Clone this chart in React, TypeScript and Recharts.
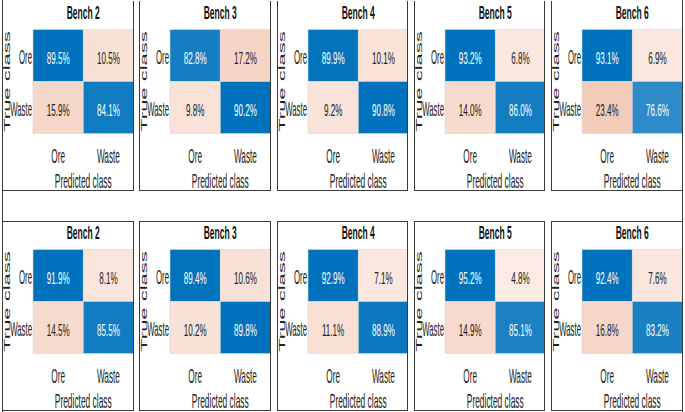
import React from "react";
import { ScatterChart, Scatter, XAxis, YAxis } from "recharts";

const CLASSES = ["Ore", "Waste"];
const BENCHES = ["Bench 2", "Bench 3", "Bench 4", "Bench 5", "Bench 6"];
// cell order: Ore->Ore, Ore->Waste, Waste->Ore, Waste->Waste (row-normalised %)
const TOP_ROW = [
  [89.5, 10.5, 15.9, 84.1],
  [82.8, 17.2, 9.8, 90.2],
  [89.9, 10.1, 9.2, 90.8],
  [93.2, 6.8, 14.0, 86.0],
  [93.1, 6.9, 23.4, 76.6],
];
const BOTTOM_ROW = [
  [91.9, 8.1, 14.5, 85.5],
  [89.4, 10.6, 10.2, 89.8],
  [92.9, 7.1, 11.1, 88.9],
  [95.2, 4.8, 14.9, 85.1],
  [92.4, 7.6, 16.8, 83.2],
];
const X_LABEL = "Predicted class";
const Y_LABEL = "True class";

const FONT = "'Liberation Sans', Arial, sans-serif";
const INK = "#222222";
const FRAME = "#3a3a3a";
const DIAG_RGB = [0, 114, 189];
const OFF_RGB = [217, 83, 25];

const PANEL_W = 131.5;
const PANEL_H = 190;
const PANEL_X0 = 2;
const PANEL_STEP = 137.25;
const ROW_TOPS = [0.5, 220.5];
const TITLE_H = 28.5;
const YAXIS_W = 31;
const XAXIS_H = 57.5;
const CELL_W = (PANEL_W - YAXIS_W) / 2;
const CELL_H = (PANEL_H - TITLE_H - XAXIS_H) / 2;

function mix(rgb: number[], t: number) {
  const c = rgb.map((v) => Math.round(255 - (255 - v) * t));
  return `rgb(${c[0]},${c[1]},${c[2]})`;
}

function toCells(values: number[]) {
  return values.map((v, k) => ({
    truth: CLASSES[Math.floor(k / 2)],
    pred: CLASSES[k % 2],
    value: v,
  }));
}

function HeatCell(props: any) {
  const { cx, cy, payload, maxDiag } = props;
  if (cx == null || cy == null) return null;
  const diag = payload.truth === payload.pred;
  const fill = diag
    ? mix(DIAG_RGB, payload.value / maxDiag)
    : mix(OFF_RGB, Math.min(1, payload.value / 100 + 0.07));
  return (
    <g>
      <rect
        x={cx - CELL_W / 2}
        y={cy - CELL_H / 2}
        width={CELL_W}
        height={CELL_H}
        fill={fill}
        stroke="#d8d8d8"
        strokeWidth={0.6}
      />
      <text
        transform={`translate(${cx},${cy + 8}) scale(0.49,1)`}
        textAnchor="middle"
        fontSize={16.5}
        fontFamily={FONT}
        fill={diag ? "#ffffff" : INK}
      >
        {payload.value.toFixed(1)}%
      </text>
    </g>
  );
}

const XTick = ({ x, y, payload }: any) => (
  <text
    transform={`translate(${x},${y + 29}) scale(0.4,1)`}
    textAnchor="middle"
    fontSize={20.5}
    fontFamily={FONT}
    fill={INK}
  >
    {payload.value}
  </text>
);

const YTick = ({ x, y, payload }: any) => (
  <text
    transform={`translate(${x - 1},${y + 8}) scale(0.39,1)`}
    textAnchor="end"
    fontSize={20}
    fontFamily={FONT}
    fill={INK}
  >
    {payload.value}
  </text>
);

function Panel({ title, values, left, top, borderTop }: any) {
  const data = toCells(values);
  const maxDiag = Math.max(values[0], values[3]);

  const titleLabel = ({ viewBox }: any) => (
    <text
      transform={`translate(${viewBox.x + viewBox.width / 2},${viewBox.y + 18}) scale(0.46,1)`}
      textAnchor="middle"
      fontSize={18.5}
      fontWeight="bold"
      fontFamily={FONT}
      fill="#111"
    >
      {title}
    </text>
  );
  const xLabel = ({ viewBox }: any) => (
    <text
      transform={`translate(${viewBox.x + viewBox.width / 2},${viewBox.y + viewBox.height - 3}) scale(0.42,1)`}
      textAnchor="middle"
      fontSize={20}
      fontFamily={FONT}
      fill={INK}
    >
      {X_LABEL}
    </text>
  );
  const yLabel = ({ viewBox }: any) => (
    <text
      transform={`translate(${viewBox.x + 8},${viewBox.y + viewBox.height / 2}) scale(0.4,1) rotate(-90)`}
      textAnchor="middle"
      fontSize={22}
      fontFamily={FONT}
      fill={INK}
    >
      {Y_LABEL}
    </text>
  );

  return (
    <div style={{ position: "absolute", left, top, width: PANEL_W, height: PANEL_H }}>
      <ScatterChart
        width={PANEL_W}
        height={PANEL_H}
        margin={{ top: 0, right: 0, bottom: 0, left: 0 }}
      >
        <XAxis
          xAxisId="top"
          orientation="top"
          dataKey="pred"
          type="category"
          allowDuplicatedCategory={false}
          height={TITLE_H}
          tick={false}
          axisLine={false}
          tickLine={false}
          label={titleLabel}
        />
        <XAxis
          dataKey="pred"
          type="category"
          allowDuplicatedCategory={false}
          height={XAXIS_H}
          axisLine={false}
          tickLine={false}
          tickSize={0}
          tickMargin={0}
          tick={<XTick />}
          label={xLabel}
        />
        <YAxis
          dataKey="truth"
          type="category"
          allowDuplicatedCategory={false}
          reversed
          width={YAXIS_W}
          axisLine={false}
          tickLine={false}
          tickSize={0}
          tickMargin={0}
          tick={<YTick />}
          label={yLabel}
        />
        <Scatter
          data={data}
          isAnimationActive={false}
          shape={(p: any) => <HeatCell {...p} maxDiag={maxDiag} />}
        />
      </ScatterChart>
      <div
        style={{
          position: "absolute",
          inset: 0,
          boxSizing: "border-box",
          borderStyle: "solid",
          borderColor: FRAME,
          borderWidth: `${borderTop ? 1.5 : 0}px 1.5px 1.5px 1.5px`,
          pointerEvents: "none",
        }}
      />
    </div>
  );
}

export default function App() {
  const rows = [TOP_ROW, BOTTOM_ROW];
  return (
    <div
      style={{
        position: "absolute",
        left: 0,
        top: 0,
        width: 685,
        height: 412,
        background: "#fff",
        overflow: "hidden",
      }}
    >
      <div style={{ position: "absolute", left: 1.5, top: 0, width: 1.5, height: 412, background: FRAME }} />
      <div style={{ position: "absolute", left: 681.5, top: 0, width: 1.5, height: 412, background: FRAME }} />
      {rows.map((row, r) =>
        row.map((values, i) => (
          <Panel
            key={`${r}-${i}`}
            title={BENCHES[i]}
            values={values}
            left={PANEL_X0 + i * PANEL_STEP}
            top={ROW_TOPS[r]}
            borderTop={r === 1}
          />
        ))
      )}
    </div>
  );
}
